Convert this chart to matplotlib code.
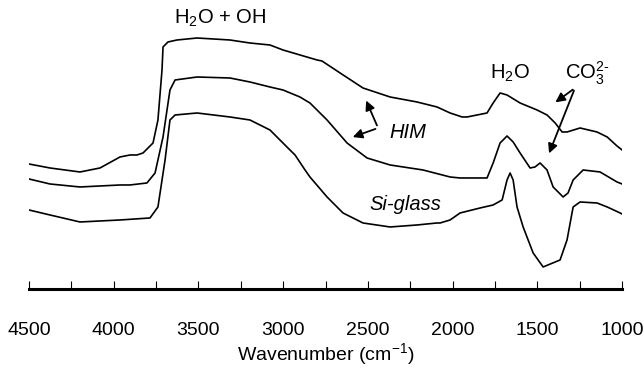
import numpy as np
import matplotlib
matplotlib.use("Agg")
import matplotlib.pyplot as plt

plt.rcParams['font.family'] = ['Liberation Sans', 'DejaVu Sans']
plt.rcParams['mathtext.fontset'] = 'custom'
plt.rcParams['mathtext.rm'] = 'Liberation Sans'
plt.rcParams['mathtext.it'] = 'Liberation Sans:italic'

# upper HIM spectrum
him1_wn = [4500, 4376, 4199, 4081, 3963, 3904, 3863, 3827, 3768, 3739, 3715, 3709, 3680,
           3627, 3508, 3314, 3196, 3078, 3001, 2800, 2771, 2664, 2529, 2369, 2210, 2092,
           2015, 1944, 1915, 1797, 1761, 1720, 1679, 1602, 1502, 1443, 1395, 1354, 1325,
           1248, 1148, 1088, 1030, 1000]
him1_abs = [1.36, 1.32, 1.28, 1.32, 1.43, 1.45, 1.45, 1.47, 1.57, 1.80, 2.30, 2.53, 2.58,
            2.60, 2.62, 2.60, 2.57, 2.55, 2.50, 2.40, 2.39, 2.27, 2.12, 2.03, 1.98, 1.93,
            1.87, 1.83, 1.83, 1.87, 1.97, 2.07, 2.05, 1.97, 1.90, 1.85, 1.77, 1.68, 1.68,
            1.72, 1.68, 1.63, 1.54, 1.50]

# lower HIM spectrum
him2_wn = [4500, 4376, 4199, 4081, 3963, 3904, 3804, 3756, 3709, 3668, 3638, 3508, 3314,
           3196, 3078, 3001, 2901, 2842, 2741, 2623, 2505, 2369, 2175, 2015, 1956, 1797,
           1761, 1720, 1679, 1643, 1602, 1543, 1514, 1484, 1443, 1407, 1348, 1319, 1289,
           1230, 1130, 1030, 1000]
him2_abs = [1.21, 1.16, 1.13, 1.14, 1.15, 1.15, 1.17, 1.27, 1.63, 2.10, 2.20, 2.23, 2.22,
            2.18, 2.13, 2.10, 2.03, 1.97, 1.80, 1.57, 1.42, 1.35, 1.30, 1.23, 1.22, 1.22,
            1.37, 1.57, 1.64, 1.58, 1.47, 1.32, 1.33, 1.37, 1.30, 1.13, 1.03, 1.07, 1.20,
            1.30, 1.28, 1.18, 1.16]

# Si-glass spectrum
si_wn = [4500, 4376, 4199, 4081, 3963, 3786, 3739, 3697, 3668, 3638, 3508, 3314, 3196,
         3078, 2960, 2930, 2871, 2842, 2741, 2647, 2529, 2369, 2210, 2092, 2074, 2015,
         1956, 1838, 1761, 1708, 1679, 1661, 1643, 1620, 1584, 1525, 1466, 1366, 1325,
         1289, 1248, 1148, 1088, 1024, 1000]
si_abs = [0.90, 0.85, 0.78, 0.79, 0.80, 0.82, 0.93, 1.40, 1.80, 1.85, 1.87, 1.83, 1.80,
          1.70, 1.50, 1.45, 1.30, 1.23, 1.03, 0.87, 0.77, 0.73, 0.75, 0.77, 0.77, 0.80,
          0.87, 0.92, 0.95, 1.00, 1.20, 1.27, 1.20, 0.93, 0.73, 0.47, 0.33, 0.40, 0.60,
          0.93, 0.98, 0.97, 0.93, 0.88, 0.86]

fig = plt.figure(figsize=(6.44, 3.70), dpi=100)
ax = fig.add_axes([0.045, 0.219, 0.921, 0.781])

for wn, a in [(him1_wn, him1_abs), (him2_wn, him2_abs), (si_wn, si_abs)]:
    ax.plot(wn, a, color='black', lw=1.2)

ax.set_xlim(4500, 1000)
ax.set_ylim(0.11, 3.0)

for s in ['top', 'left', 'right']:
    ax.spines[s].set_visible(False)
ax.spines['bottom'].set_linewidth(2.2)
ax.set_yticks([])
ax.set_xticks(np.arange(1000, 4501, 500))
ax.set_xticks(np.arange(1250, 4500, 500), minor=True)
ax.tick_params(axis='x', which='both', direction='in', length=6, width=0.8, pad=24,
               labelsize=14)
ax.set_xlabel('Wavenumber (cm$^{-1}$)', fontsize=14, labelpad=1)

fs = 14.5
ax.text(3373, 2.82, 'H$_2$O + OH', fontsize=fs, ha='center', va='center')
ax.text(1661, 2.27, 'H$_2$O', fontsize=fs, ha='center', va='center')
ax.text(1205, 2.27, r'CO$_3^{2\text{-}}$', fontsize=fs, ha='center', va='center')
ax.text(2263, 1.67, 'HIM', fontsize=fs, style='italic', ha='center', va='center')
ax.text(2281, 0.95, 'Si-glass', fontsize=fs, style='italic', ha='center', va='center')

arrow = dict(arrowstyle='-|>', color='black', lw=1.3, mutation_scale=14)
ax.annotate('', xy=(1407, 1.96), xytext=(1278, 2.12), arrowprops=arrow)
ax.annotate('', xy=(1437, 1.44), xytext=(1278, 2.12), arrowprops=arrow)
ax.annotate('', xy=(2517, 2.02), xytext=(2440, 1.72), arrowprops=arrow)
ax.annotate('', xy=(2605, 1.62), xytext=(2440, 1.72), arrowprops=arrow)

fig.savefig('out.png', dpi=100)
